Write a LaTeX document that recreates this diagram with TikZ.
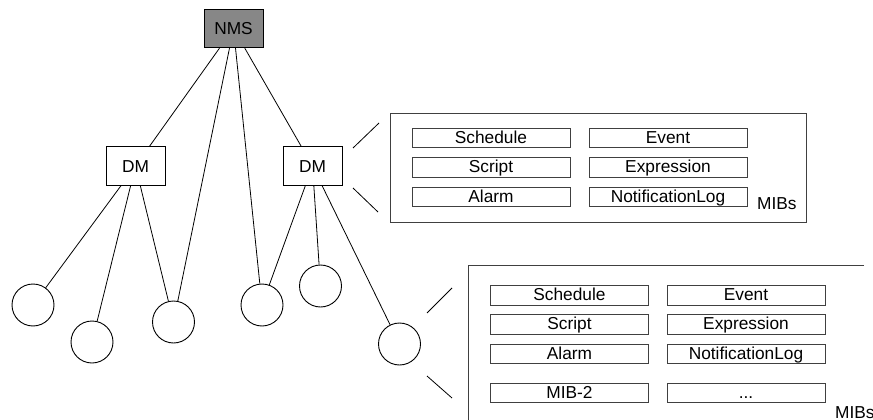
\documentclass[tikz,border=0pt]{standalone}
\usepackage{fontspec}
\setmainfont{Liberation Sans}
\begin{document}
\begin{tikzpicture}[x=1pt,y=-1pt,
  every node/.style={font=\fontsize{17.3}{20}\selectfont},
  lbl/.style={text height=12.5, text depth=0, inner sep=0},
  mgr/.style={draw=black, line width=0.9pt, minimum width=59, minimum height=38.5, inner sep=0, text height=12.5, text depth=0},
  dev/.style={circle, draw=black, line width=0.9pt, minimum size=42, inner sep=0},
  mib/.style={draw=black!75, line width=0.9pt, minimum width=158, minimum height=19.5, inner sep=0, text height=12.5, text depth=2},
  link/.style={draw=black, line width=0.8pt},
  panel/.style={draw=black!75, line width=0.9pt}]
\clip (0,0) rectangle (873,420);
\fill[white] (0,0) rectangle (873,420);

% managers
\node[mgr, fill=black!47] (nms) at (233.5,28.5) {NMS};
\node[mgr] (dml) at (135.5,166) {DM};
\node[mgr] (dmr) at (312.5,166) {DM};

% devices
\node[dev] (c1) at (33,305) {};
\node[dev] (c2) at (92,342) {};
\node[dev] (c3) at (173.5,322) {};
\node[dev] (c4) at (262,305) {};
\node[dev] (c5) at (320.5,286) {};
\node[dev] (c6) at (399.5,344) {};

% connectors
\draw[link] (nms) -- (dml);
\draw[link] (nms) -- (dmr);
\draw[link] (nms) -- (c3);
\draw[link] (nms) -- (c4);
\draw[link] (dml) -- (c1);
\draw[link] (dml) -- (c2);
\draw[link] (dml) -- (c3);
\draw[link] (dmr) -- (c4);
\draw[link] (dmr) -- (c5);
\draw[link] (dmr) -- (c6);

% panel 1 (DM MIBs)
\node[panel, minimum width=416, minimum height=109, inner sep=0] (p1) at (598,167.5) {};
\coordinate (a1) at (353,148); \coordinate (a2) at (379,123);
\coordinate (a3) at (353,188); \coordinate (a4) at (378,212);
\draw[link] (a1) -- (a2);
\draw[link] (a3) -- (a4);
\node[mib] (s1) at (491,138) {Schedule};
\node[mib] (e1) at (668,138) {Event};
\node[mib] (sc1) at (491,167.5) {Script};
\node[mib] (ex1) at (668,167.5) {Expression};
\node[mib] (al1) at (491,197) {Alarm};
\node[mib] (nl1) at (668,197) {NotificationLog};
\node[lbl, anchor=base west] (m1) at (757,209) {MIBs};

% panel 2 (device MIBs)
\coordinate (q1) at (864,265); \coordinate (q2) at (468,265); \coordinate (q3) at (468,421);
\draw[panel] (q1) -- (q2) -- (q3);
\coordinate (b1) at (427,313); \coordinate (b2) at (452,288);
\coordinate (b3) at (427,376); \coordinate (b4) at (452,398);
\draw[link] (b1) -- (b2);
\draw[link] (b3) -- (b4);
\node[mib] (s2) at (569.5,295.5) {Schedule};
\node[mib] (e2) at (746,295.5) {Event};
\node[mib] (sc2) at (569.5,324.5) {Script};
\node[mib] (ex2) at (746,324.5) {Expression};
\node[mib] (al2) at (569.5,354) {Alarm};
\node[mib] (nl2) at (746,354) {NotificationLog};
\node[mib] (mb2) at (569.5,393) {MIB-2};
\node[mib] (dt2) at (746,393) {...};
\node[lbl, anchor=base west] (m2) at (835,418) {MIBs};
\end{tikzpicture}
\end{document}
